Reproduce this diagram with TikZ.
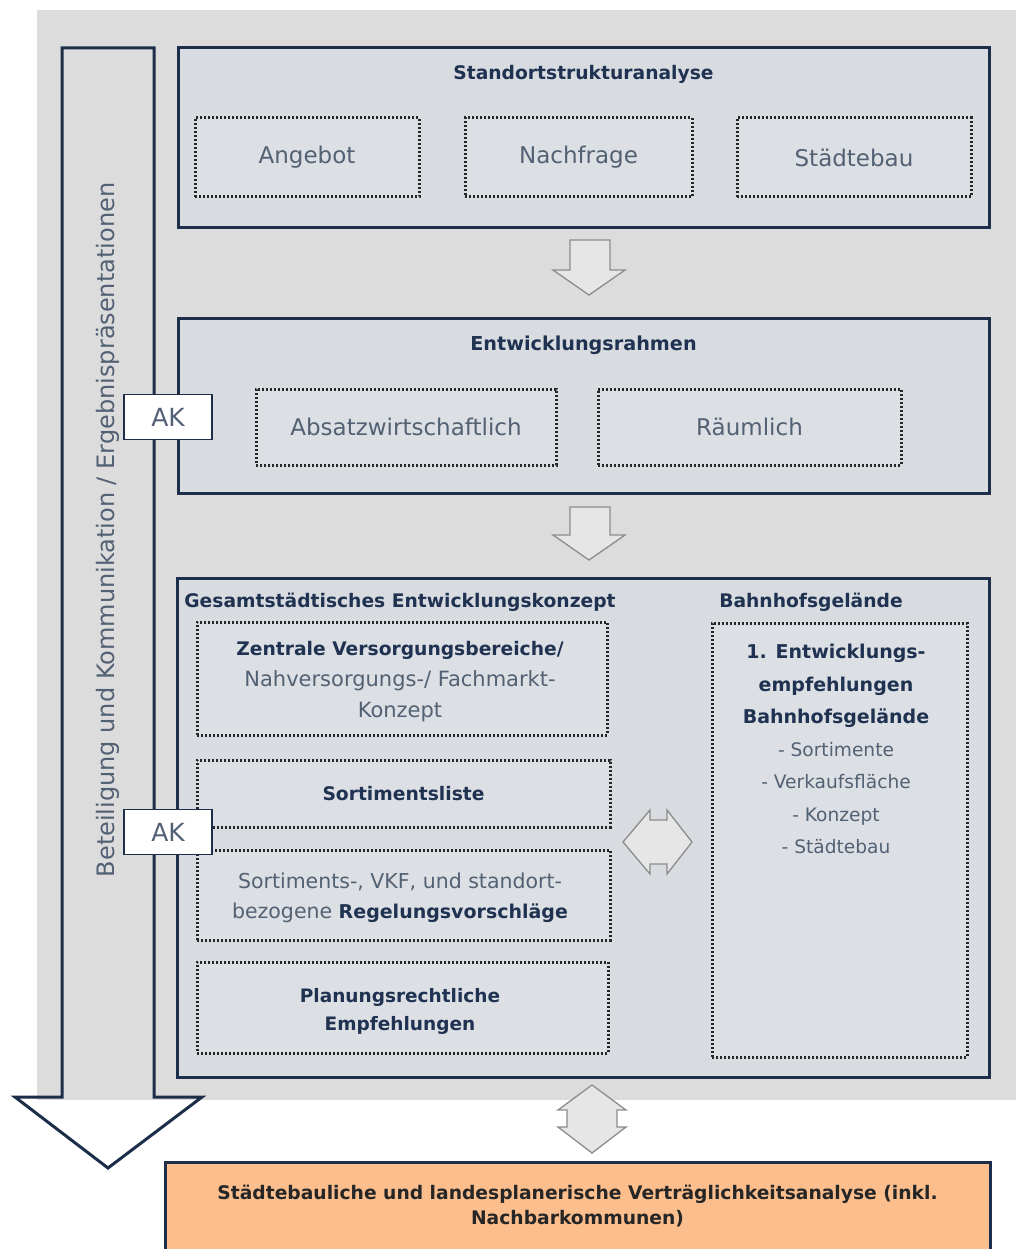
\documentclass[tikz,border=0pt]{standalone}
\usepackage{fontspec}
\setmainfont{DejaVu Sans}
\definecolor{bgcol}{HTML}{DCDCDC}
\definecolor{boxfill}{HTML}{D8DCE0}
\definecolor{subfill}{HTML}{DCDFE3}
\definecolor{navy}{HTML}{1C2E4A}
\definecolor{titlecol}{HTML}{1F3251}
\definecolor{textcol}{HTML}{526173}
\definecolor{orangefill}{HTML}{FBBE8C}
\definecolor{arrline}{HTML}{8C8C8C}
\definecolor{arrfill}{HTML}{E6E6E6}
\tikzset{
  bigbox/.style={draw=navy, line width=3pt, fill=boxfill, inner sep=0pt},
  subbox/.style={draw=black!85, line width=3pt, dash pattern=on 2pt off 2pt, fill=subfill, inner sep=0pt, align=center, text=textcol, font=\fontsize{23}{27}\selectfont},
  titletext/.style={text=titlecol, font=\bfseries\fontsize{18.7}{22}\selectfont, inner sep=0pt},
  boxtext/.style={align=center, inner sep=0pt, text=textcol},
  akbox/.style={draw=navy, line width=1.8pt, fill=white, inner sep=0pt, minimum width=88pt, minimum height=45pt, text=textcol, font=\fontsize{25}{28}\selectfont},
  blockarrow/.style={draw=arrline, line width=1.3pt, fill=arrfill},
}
\newcommand{\tb}[1]{{\bfseries\color{titlecol}#1}}
\begin{document}
\begin{tikzpicture}[x=1pt,y=-1pt]
\useasboundingbox (0,0) rectangle (1016,1249);
% background
\fill[bgcol] (37,10) rectangle (1016,1100);
% big vertical arrow
\draw[navy, line width=3pt, line join=miter]
  (62,48) -- (62,1097) -- (15,1097) -- (108,1168) -- (202,1097) -- (154,1097) -- (154,48) -- cycle;
\node[rotate=90, text=textcol, font=\fontsize{24}{28}\selectfont, inner sep=0pt] (beteil) at (108,530)
  {Beteiligung und Kommunikation / Ergebnispräsentationen};

% box 1
\node[bigbox, minimum width=811pt, minimum height=180pt] (sa) at (583.5,138) {};
\node[titletext] (satitle) at (583.5,74) {Standortstrukturanalyse};
\node[subbox, minimum width=224pt, minimum height=79pt] (angebot) at (307,157.5) {Angebot};
\node[subbox, minimum width=227pt, minimum height=79pt] (nachfrage) at (578.5,157.5) {Nachfrage};
\node[subbox, minimum width=234pt, minimum height=79pt] (staedtebau) at (854,157.5) {Städtebau};

% arrow 1
\draw[blockarrow] (570,240) -- (610,240) -- (610,270) -- (625,270) -- (589,295) -- (553,270) -- (570,270) -- cycle;

% box 2
\node[bigbox, minimum width=811pt, minimum height=175pt] (er) at (583.5,405.5) {};
\node[titletext, font=\bfseries\fontsize{19.2}{22}\selectfont] (ertitle) at (583.5,345) {Entwicklungsrahmen};
\node[subbox, minimum width=300pt, minimum height=76pt] (absatz) at (406,427) {Absatzwirtschaftlich};
\node[subbox, minimum width=303pt, minimum height=76pt] (raeum) at (749.5,427) {Räumlich};

% arrow 2
\draw[blockarrow] (570,507) -- (610,507) -- (610,535) -- (625,535) -- (589,560) -- (553,535) -- (570,535) -- cycle;

% box 3
\node[bigbox, minimum width=812pt, minimum height=499pt] (gek) at (583,827.5) {};
\node[titletext] (gektitle) at (400,602) {Gesamtstädtisches Entwicklungskonzept};
\node[titletext] (bhtitle) at (811,602) {Bahnhofsgelände};

\node[subbox, minimum width=410pt, minimum height=113pt] (zvb) at (402,678.5) {};
\node[boxtext, font=\fontsize{21}{31}\selectfont] (zvbtext) at (400,682)
  {{\fontsize{18.7}{31}\selectfont\tb{Zentrale Versorgungsbereiche/}}\\Nahversorgungs-/ Fachmarkt-\\Konzept};
\node[subbox, minimum width=413pt, minimum height=67pt] (sl) at (403.5,793.5)
  {\fontsize{18.7}{22}\selectfont\tb{Sortimentsliste}};
\node[subbox, minimum width=413pt, minimum height=90pt] (rv) at (403.5,895) {};
\node[boxtext, font=\fontsize{20.5}{30}\selectfont] (rvtext) at (400,898)
  {Sortiments-, VKF, und standort-\\bezogene {\fontsize{19}{30}\selectfont\tb{Regelungsvorschläge}}};
\node[subbox, minimum width=411pt, minimum height=91pt] (pe) at (402.5,1007.5) {};
\node[boxtext, text=titlecol, font=\bfseries\fontsize{18.5}{28}\selectfont] (petext) at (400,1011)
  {Planungsrechtliche\\Empfehlungen};

\node[subbox, minimum width=255pt, minimum height=434pt] (bh) at (839.5,840) {};
\node[boxtext, font=\fontsize{18.6}{32.5}\selectfont] (bhtext) at (836,749)
  {{\bfseries\color{titlecol}\fontsize{19}{29}\selectfont 1. Entwicklungs-}\\
   {\bfseries\color{titlecol}\fontsize{19}{29}\selectfont empfehlungen}\\
   {\bfseries\color{titlecol}\fontsize{19}{29}\selectfont Bahnhofsgelände}\\
   - Sortimente\\- Verkaufsfläche\\- Konzept\\- Städtebau};

% horizontal double arrow
\draw[blockarrow] (623,842) -- (650,810) -- (650,820) -- (667,820) -- (667,810) -- (692,842)
  -- (667,874) -- (667,864) -- (650,864) -- (650,874) -- cycle;

% vertical double arrow
\draw[blockarrow] (592,1085) -- (626,1110) -- (617,1110) -- (617,1127) -- (626,1127) -- (592,1153)
  -- (558,1127) -- (567,1127) -- (567,1110) -- (558,1110) -- cycle;

% AK boxes
\node[akbox] (ak1) at (168,417) {AK};
\node[akbox] (ak2) at (168,832) {AK};

% bottom box
\node[draw=navy, line width=3pt, fill=orangefill, minimum width=825pt, minimum height=100pt, inner sep=0pt] (va) at (577.5,1212) {};
\node[boxtext, text=black!85, font=\bfseries\fontsize{18.7}{25}\selectfont] (vatext) at (577.5,1206)
  {Städtebauliche und landesplanerische Verträglichkeitsanalyse (inkl.\\Nachbarkommunen)};
\end{tikzpicture}
\end{document}
